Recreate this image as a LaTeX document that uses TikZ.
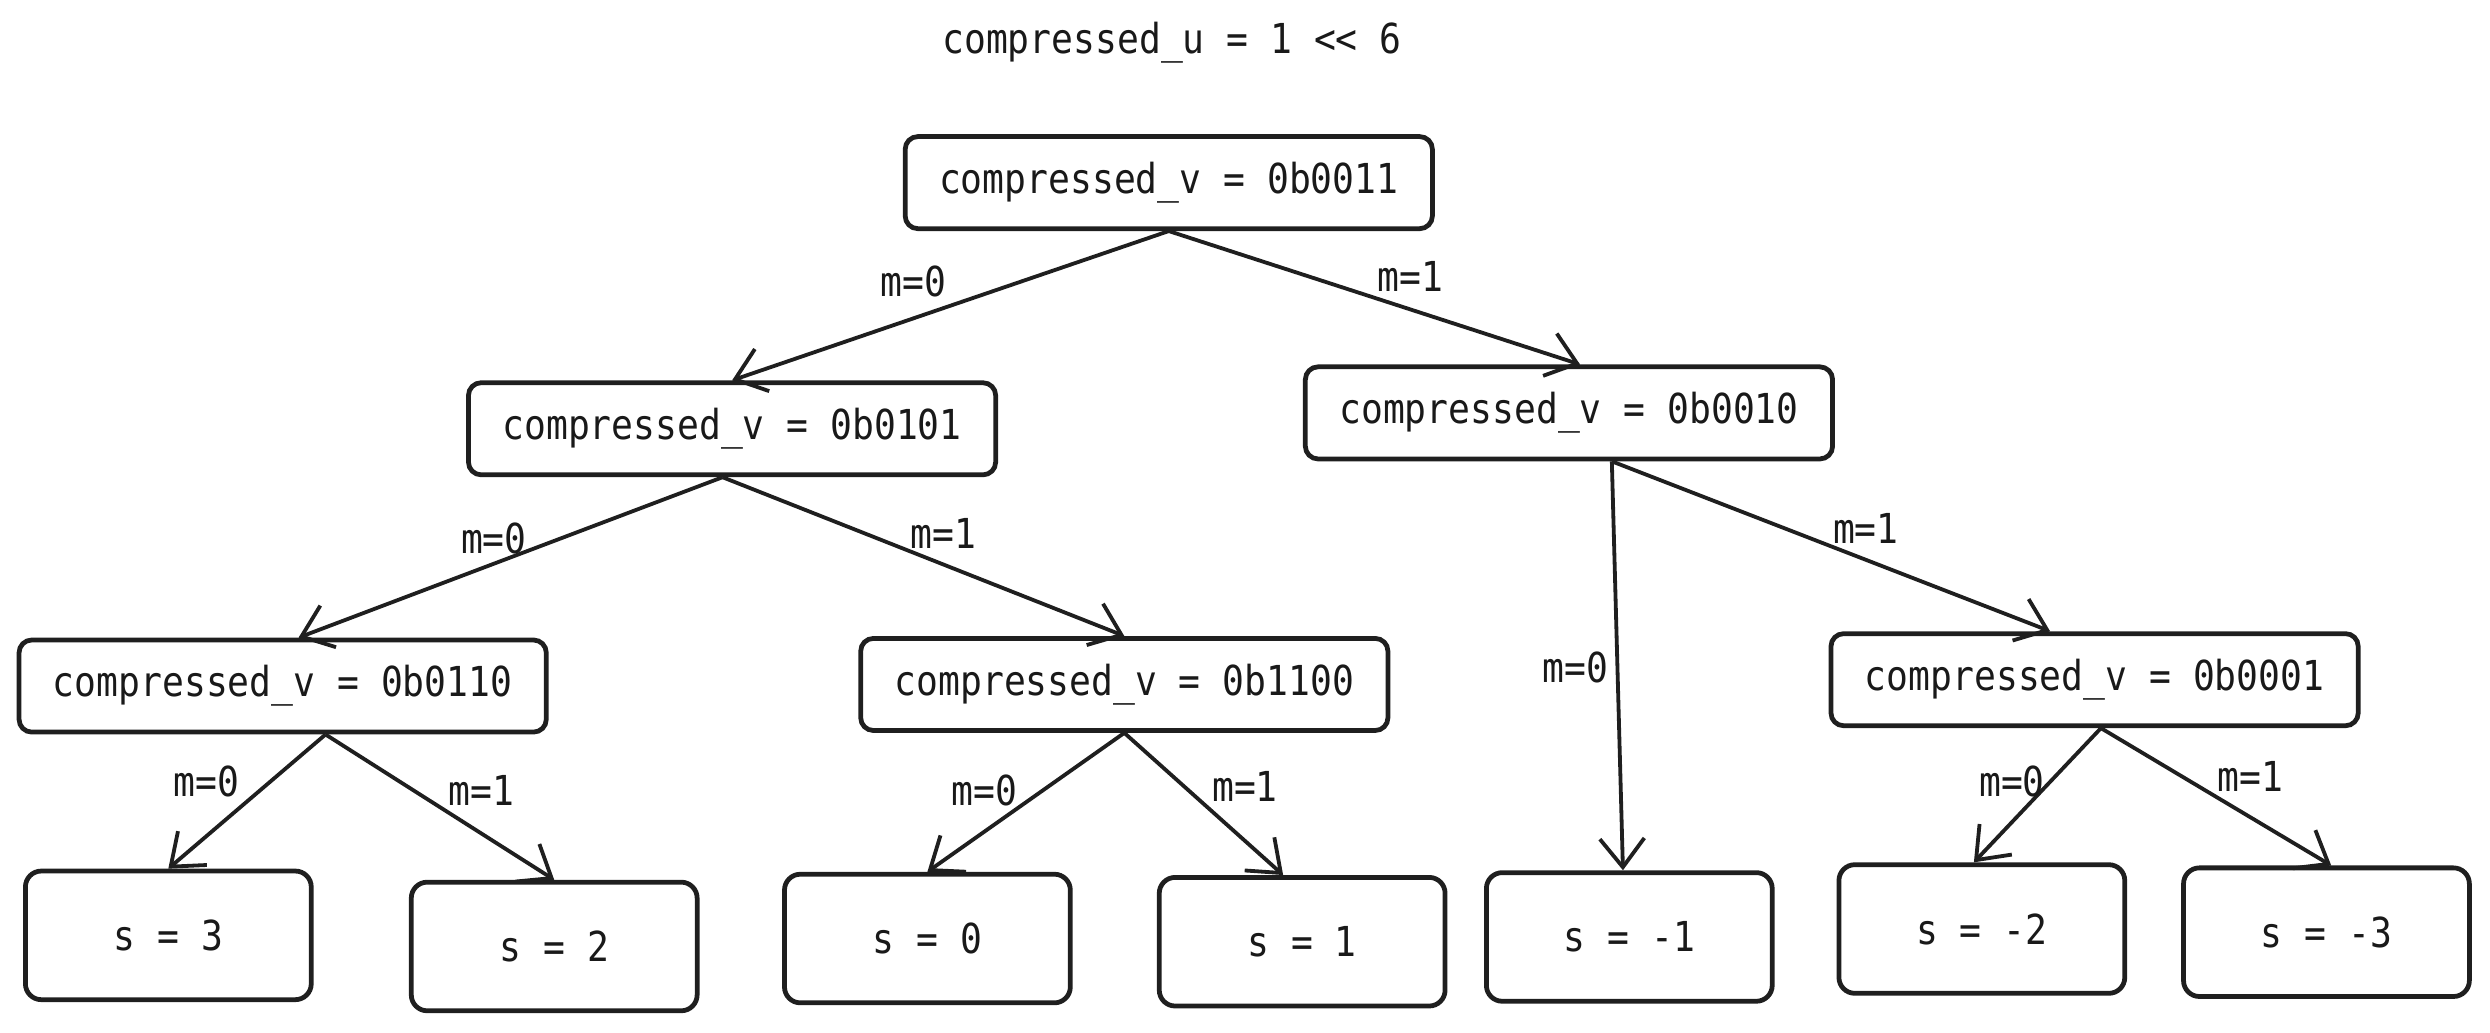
\documentclass[tikz,border=0pt]{standalone}
\usepackage{fontspec}
\setmonofont[FakeStretch=0.88]{DejaVu Sans Mono}
\usetikzlibrary{arrows.meta}
\begin{document}
\begin{tikzpicture}[x=0.5pt,y=-0.5pt,
  every node/.style={font=\ttfamily\fontsize{13}{15}\selectfont, text=black!90},
  vbox/.style={draw=black!88, line width=1.5pt, rounded corners=4pt, minimum width=166pt, minimum height=29pt, inner sep=0pt},
  leaf/.style={draw=black!88, line width=1.5pt, rounded corners=5pt, minimum width=90pt, minimum height=40.5pt, inner sep=0pt},
  edge/.style={draw=black!88, line width=1.2pt, -{Straight Barb[length=9pt,width=14pt]}},
  lbl/.style={inner sep=0pt}
]
\useasboundingbox (0,0) rectangle (1568,650);
\node (title) at (738,27) {compressed\_u = 1 << 6};

\node[vbox] (root) at (736,115) {compressed\_v = 0b0011};
\node[vbox] (A) at (461,270) {compressed\_v = 0b0101};
\node[vbox] (B) at (988,260) {compressed\_v = 0b0010};
\node[vbox] (C) at (178,432) {compressed\_v = 0b0110};
\node[vbox] (D) at (708,431) {compressed\_v = 0b1100};
\node[vbox] (E) at (1319,428) {compressed\_v = 0b0001};

\node[leaf] (s3) at (106,589) {s = 3};
\node[leaf] (s2) at (349,596) {s = 2};
\node[leaf] (s0) at (584,591) {s = 0};
\node[leaf] (s1) at (820,593) {s = 1};
\node[leaf] (sm1) at (1026,590) {s = -1};
\node[leaf] (sm2) at (1248,585) {s = -2};
\node[leaf] (sm3) at (1465,587) {s = -3};

\draw[edge] (root.south) -- (A.north);
\draw[edge] (root.south) -- ([xshift=3.5pt]B.north);
\draw[edge] ([xshift=-3pt]A.south) -- ([xshift=5pt]C.north);
\draw[edge] ([xshift=-3pt]A.south) -- (D.north);
\draw[edge] ([xshift=13.5pt]B.south) -- ([xshift=-2pt]sm1.north);
\draw[edge] ([xshift=13.5pt]B.south) -- ([xshift=-14pt]E.north);
\draw[edge] ([xshift=13.5pt]C.south) -- (s3.north);
\draw[edge] ([xshift=13.5pt]C.south) -- (s2.north);
\draw[edge] (D.south) -- (s0.north);
\draw[edge] (D.south) -- ([xshift=-6pt]s1.north);
\draw[edge] ([xshift=2pt]E.south) -- ([xshift=-2.5pt]sm2.north);
\draw[edge] ([xshift=2pt]E.south) -- ([xshift=1.5pt]sm3.north);

\node[lbl] (l1) at (575,177) {m=0};
\node[lbl] (l2) at (888,174) {m=1};
\node[lbl] (l3) at (311,339) {m=0};
\node[lbl] (l4) at (594,336) {m=1};
\node[lbl] (l5) at (992,420) {m=0};
\node[lbl] (l6) at (1175,333) {m=1};
\node[lbl] (l7) at (130,492) {m=0};
\node[lbl] (l8) at (303,498) {m=1};
\node[lbl] (l9) at (620,498) {m=0};
\node[lbl] (l10) at (784,495) {m=1};
\node[lbl] (l11) at (1267,492) {m=0};
\node[lbl] (l12) at (1417,489) {m=1};
\end{tikzpicture}
\end{document}
